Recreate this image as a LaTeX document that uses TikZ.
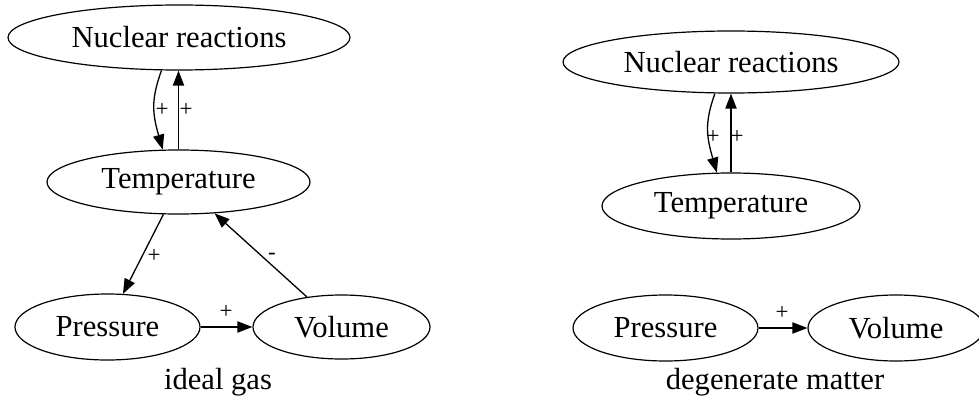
\documentclass[tikz,border=0pt]{standalone}
\usepackage{fontspec}
\setmainfont{Liberation Serif}
\usetikzlibrary{arrows.meta,shapes.geometric}
\begin{document}
\begin{tikzpicture}[x=0.5pt,y=-0.5pt,
  nd/.style={ellipse,draw,line width=0.6pt,inner sep=0pt,font=\fontsize{15.3}{18}\selectfont},
  arr/.style={line width=0.65pt,-{Triangle[length=7.5pt,width=5.6pt]}},
  lbl/.style={font=\fontsize{11.5}{13}\selectfont,inner sep=0pt},
  capt/.style={font=\fontsize{15.3}{18}\selectfont,inner sep=0pt}]
\useasboundingbox (0,0) rectangle (979,401);
% ideal gas
\node[nd,minimum width=171pt,minimum height=32.5pt] (nrL) at (179,37.5) {Nuclear reactions};
\node[nd,minimum width=131.5pt,minimum height=32pt] (tL) at (178.5,182) {Temperature};
\node[nd,minimum width=92.5pt,minimum height=33pt] (pL) at (107.5,327) {Pressure};
\node[nd,minimum width=88.5pt,minimum height=32pt] (vL) at (341.5,327) {Volume};
\draw[arr] (nrL.-118) .. controls +(-11,30) and +(-10,-35) .. (tL.116);
\draw[arr] (tL.north) -- (tL.north |- nrL.south);
\draw[arr] (tL.-115) -- (pL.65);
\draw[arr] (vL.139) -- (tL.-41);
\draw[arr] (pL.east) -- (vL.west);
\node[lbl] (l1) at (162,110) {+};
\node[lbl] (l2) at (186,110) {+};
\node[lbl] (l3) at (154,256) {+};
\node[lbl] (l4) at (272,256) {-};
\node[lbl] (l5) at (226,312) {+};
\node[capt] (c1) at (218,382) {ideal gas};
% degenerate matter
\node[nd,minimum width=168pt,minimum height=31pt] (nrR) at (731,62) {Nuclear reactions};
\node[nd,minimum width=129pt,minimum height=33pt] (tR) at (731,206) {Temperature};
\node[nd,minimum width=92.5pt,minimum height=33pt] (pR) at (665.5,328) {Pressure};
\node[nd,minimum width=88pt,minimum height=33pt] (vR) at (896,328) {Volume};
\draw[arr] (nrR.-117) .. controls +(-11,30) and +(-10,-35) .. (tR.113);
\draw[arr] (tR.north) -- (tR.north |- nrR.south);
\draw[arr] (pR.east) -- (vR.west);
\node[lbl] (l6) at (713,137) {+};
\node[lbl] (l7) at (737,137) {+};
\node[lbl] (l8) at (782,313) {+};
\node[capt] (c2) at (775,382) {degenerate matter};
\end{tikzpicture}
\end{document}
